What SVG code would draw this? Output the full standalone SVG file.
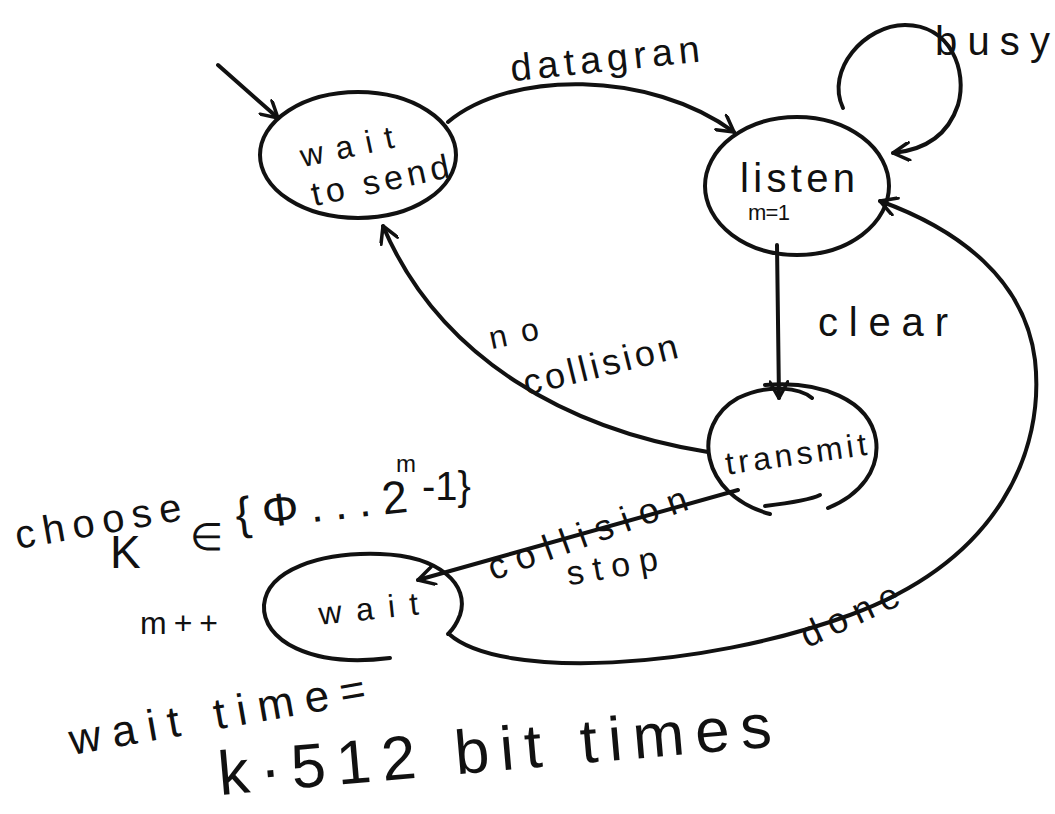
<svg xmlns="http://www.w3.org/2000/svg" width="1055" height="814" viewBox="0 0 1055 814">
<defs>
<marker id="arr" viewBox="0 0 20 20" refX="18" refY="10" markerWidth="20" markerHeight="20" markerUnits="userSpaceOnUse" orient="auto">
<path d="M2,1 L18,10 L2,19" fill="none" stroke="#111" stroke-width="3.5" stroke-linecap="round" stroke-linejoin="round"/>
</marker>
<style>
.s{fill:none;stroke:#111;stroke-width:4;stroke-linecap:round;stroke-linejoin:round}
.t{font-family:"Liberation Sans",Arial,sans-serif;fill:#111;font-weight:normal}
</style>
</defs>
<rect width="1055" height="814" fill="#fff"/>

<g id="node-wait-to-send">
<ellipse class="s" cx="358" cy="155" rx="98" ry="63"/>
<text class="t" x="300" y="158" font-size="32" textLength="95" transform="rotate(-12 345 150)">wait</text>
<text class="t" x="310" y="192" font-size="34" textLength="140" transform="rotate(-12 380 180)">to send</text>
</g>

<g id="node-listen">
<ellipse class="s" cx="797" cy="186" rx="92" ry="69"/>
<text class="t" x="740" y="192" font-size="40" textLength="115">listen</text>
<text class="t" x="748" y="220" font-size="22" textLength="42">m=1</text>
</g>

<g id="node-transmit">
<path class="s" d="M770,514 C700,495 690,425 738,398 C770,383 800,388 812,398"/>
<path class="s" d="M765,385 C820,380 870,400 876,440 C880,470 860,495 828,508"/>
<path class="s" d="M765,506 C790,503 810,500 820,495"/>
<text class="t" x="725" y="465" font-size="32" textLength="142" transform="rotate(-8 795 455)">transmit</text>
</g>

<g id="node-wait">
<path class="s" d="M390,658 C310,668 262,640 264,605 C267,570 320,552 380,554 C440,556 470,585 460,615 C455,628 450,632 448,634"/>
<text class="t" x="318" y="620" font-size="32" textLength="100" transform="rotate(-6 365 605)">wait</text>
</g>

<g id="connectors">
<path class="s" d="M218,65 L278,118" marker-end="url(#arr)"/>
<path class="s" d="M448,122 C510,70 650,70 734,132" marker-end="url(#arr)"/>
<path class="s" d="M843,108 C825,70 865,25 905,25 C950,25 968,70 958,105 C948,135 925,150 893,153" marker-end="url(#arr)"/>
<path class="s" d="M777,245 L779,398" marker-end="url(#arr)"/>
<path class="s" d="M708,452 C570,430 440,360 383,226" marker-end="url(#arr)"/>
<path class="s" d="M738,490 L418,580" marker-end="url(#arr)"/>
<path class="s" d="M449,634 C500,680 700,670 850,615 C1000,560 1045,450 1035,360 C1025,280 960,230 880,201" marker-end="url(#arr)"/>
</g>

<g id="labels">
<text class="t" x="510" y="72" font-size="38" textLength="190" transform="rotate(-6 600 60)">datagran</text>
<text class="t" x="935" y="55" font-size="40" textLength="115">busy</text>
<text class="t" x="818" y="336" font-size="40" textLength="130">clear</text>
<text class="t" x="488" y="345" font-size="32" textLength="50" transform="rotate(-12 510 330)">no</text>
<text class="t" x="520" y="378" font-size="36" textLength="158" transform="rotate(-14 595 360)">collision</text>
<text class="t" x="472" y="548" font-size="36" textLength="210" transform="rotate(-20 575 505)">collision</text>
<text class="t" x="565" y="578" font-size="34" textLength="92" transform="rotate(-10 610 560)">stop</text>
<text class="t" x="790" y="630" font-size="36" textLength="105" transform="rotate(-25 840 600)">done</text>
<text class="t" x="12" y="535" font-size="40" textLength="168" transform="rotate(-10 95 510)">choose</text>
<text class="t" x="110" y="568" font-size="46">K</text>
<text class="t" x="190" y="550" font-size="38">∈</text>
<text class="t" x="237" y="530" font-size="46" textLength="173" transform="rotate(-6 237 530)">{Φ...2</text>
<text class="t" x="396" y="472" font-size="24">m</text>
<text class="t" x="422" y="500" font-size="40">-1}</text>
<text class="t" x="140" y="634" font-size="32" textLength="78">m++</text>
<text class="t" x="72" y="755" font-size="44" textLength="300" transform="rotate(-10 72 755)">wait time=</text>
<text class="t" x="220" y="795" font-size="62" textLength="555" transform="rotate(-5 220 795)">k·512 bit times</text>
</g>
</svg>
